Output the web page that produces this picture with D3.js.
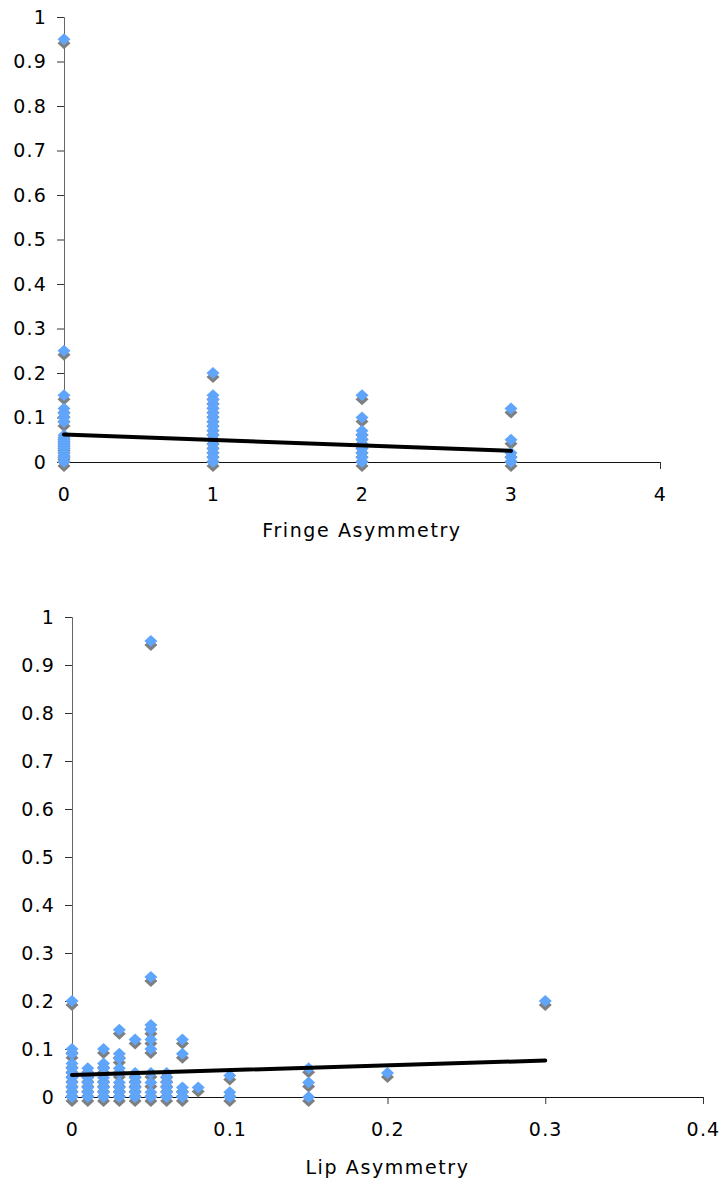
<!DOCTYPE html>
<meta charset="utf-8">
<style>
body { margin: 0; background: #fff; }
svg text { font-family: "DejaVu Sans", Verdana, sans-serif; fill: #000; }
.tick text { font-size: 19px; letter-spacing: 1.2px; }
.title { font-size: 19px; letter-spacing: 1.6px; }
</style>
<body>
<script src="https://d3js.org/d3.v7.min.js"></script>
<script>

// Fringe asymmetry (x) vs value (y)
var fringeX = [0, 0, 0, 0, 0, 0, 0, 0, 0, 0, 0, 0, 0, 0, 0, 0, 0, 0,
               1, 1, 1, 1, 1, 1, 1, 1, 1, 1, 1, 1, 1, 1, 1, 1, 1,
               2, 2, 2, 2, 2, 2, 2, 2, 2, 2,
               3, 3, 3, 3, 3];
var fringeY = [0.95, 0.25, 0.15, 0.12, 0.11, 0.1, 0.09, 0.06, 0.055, 0.05, 0.045, 0.04, 0.035, 0.03, 0.02, 0.015, 0.01, 0,
               0.2, 0.15, 0.14, 0.13, 0.12, 0.11, 0.1, 0.09, 0.08, 0.07, 0.06, 0.05, 0.04, 0.03, 0.02, 0.01, 0,
               0.15, 0.1, 0.07, 0.06, 0.05, 0.04, 0.03, 0.02, 0.01, 0,
               0.12, 0.05, 0.02, 0.01, 0];
var fringeTrend = [[0, 0.062], [3, 0.025]];
var fringeTicksX = [0, 1, 2, 3, 4];

// Lip asymmetry (x) vs value (y)
var lipX = [0, 0, 0, 0, 0, 0, 0, 0, 0, 0, 0,
            0.01, 0.01, 0.01, 0.01, 0.01, 0.01, 0.01,
            0.02, 0.02, 0.02, 0.02, 0.02, 0.02, 0.02, 0.02,
            0.03, 0.03, 0.03, 0.03, 0.03, 0.03, 0.03, 0.03, 0.03,
            0.04, 0.04, 0.04, 0.04, 0.04, 0.04, 0.04,
            0.05, 0.05, 0.05, 0.05, 0.05, 0.05, 0.05, 0.05, 0.05, 0.05,
            0.06, 0.06, 0.06, 0.06, 0.06, 0.06,
            0.07, 0.07, 0.07, 0.07, 0.07,
            0.08,
            0.1, 0.1, 0.1,
            0.15, 0.15, 0.15,
            0.2,
            0.3];
var lipY = [0.2, 0.1, 0.09, 0.07, 0.06, 0.05, 0.04, 0.03, 0.02, 0.01, 0,
            0.06, 0.05, 0.04, 0.03, 0.02, 0.01, 0,
            0.1, 0.07, 0.06, 0.04, 0.03, 0.02, 0.01, 0,
            0.14, 0.09, 0.08, 0.06, 0.05, 0.03, 0.02, 0.01, 0,
            0.12, 0.05, 0.04, 0.03, 0.02, 0.01, 0,
            0.95, 0.25, 0.15, 0.14, 0.12, 0.1, 0.05, 0.03, 0.01, 0,
            0.05, 0.04, 0.03, 0.02, 0.01, 0,
            0.12, 0.09, 0.02, 0.01, 0,
            0.02,
            0.045, 0.01, 0,
            0.06, 0.03, 0,
            0.05,
            0.2];
var lipTrend = [[0, 0.046], [0.3, 0.076]];
var lipTicksX = [0, 0.1, 0.2, 0.3, 0.4];

var yTicks = [0, 0.1, 0.2, 0.3, 0.4, 0.5, 0.6, 0.7, 0.8, 0.9, 1];

var svg = d3.select("body").append("svg")
    .attr("width", 724)
    .attr("height", 1185);

var diamond = "M0,-6L6.5,0L0,6L-6.5,0Z";

function drawChart(xs, ys, trend, xTicks, xDomain, box, title) {
    var x = d3.scaleLinear().domain(xDomain).range([box.left, box.right]);
    var y = d3.scaleLinear().domain([0, 1]).range([box.bottom, box.top]);

    // y axis
    var ya = svg.append("g")
        .attr("transform", "translate(" + box.left + ",0)")
        .call(d3.axisLeft(y).tickValues(yTicks).tickSize(7).tickPadding(10)
            .tickFormat(function (d) { return d3.format("")(+d.toFixed(1)); }));
    ya.select(".domain").attr("stroke", "#666");
    ya.selectAll(".tick line").attr("stroke", "#333");

    // x axis
    var xa = svg.append("g")
        .attr("transform", "translate(0," + box.bottom + ")")
        .call(d3.axisBottom(x).tickValues(xTicks).tickSize(7).tickPadding(19)
            .tickFormat(function (d) { return d3.format("")(+d.toFixed(1)); }));
    xa.select(".domain").attr("stroke", "#111");
    xa.selectAll(".tick line").attr("stroke", "#333");

    // points: shadow then diamond
    var pts = svg.append("g").selectAll("g")
        .data(xs.map(function (d, i) { return {x: d, y: ys[i]}; }))
        .enter().append("g")
        .attr("transform", function (d) {
            return "translate(" + x(d.x) + "," + y(d.y) + ")";
        });
    pts.append("path")
        .attr("d", diamond)
        .attr("transform", "translate(0,4)")
        .attr("fill", "#7f7f7f");
    pts.append("path")
        .attr("d", diamond)
        .attr("fill", "#5fa5fb");

    // trend line
    svg.append("path")
        .datum(trend)
        .attr("fill", "none")
        .attr("stroke", "#000")
        .attr("stroke-width", 4)
        .attr("stroke-linecap", "round")
        .attr("d", d3.line()
            .x(function (d) { return x(d[0]); })
            .y(function (d) { return y(d[1]); }));

    svg.append("text")
        .attr("class", "title")
        .attr("x", (box.left + box.right) / 2)
        .attr("y", box.titleY)
        .attr("text-anchor", "middle")
        .text(title);
}

drawChart(fringeX, fringeY, fringeTrend, fringeTicksX, [0, 4],
    {left: 64, right: 660, top: 17, bottom: 462, titleY: 537}, "Fringe Asymmetry");

drawChart(lipX, lipY, lipTrend, lipTicksX, [0, 0.4],
    {left: 72, right: 703, top: 617, bottom: 1097, titleY: 1174}, "Lip Asymmetry");

</script>
</body>
